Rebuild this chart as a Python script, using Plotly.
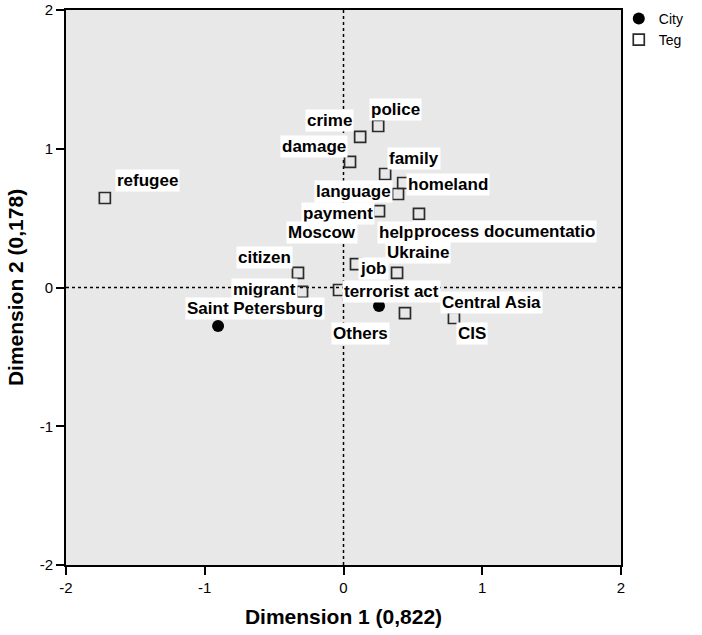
import plotly.graph_objects as go

# Correspondence analysis map: row points (City) and column points (Teg)
city_names = ["Moscow", "Saint Petersburg", "Others"]
city_dim1 = [-0.155, -0.904, 0.256]
city_dim2 = [0.400, -0.277, -0.133]

teg_names = ["refugee", "police", "crime", "damage", "family", "homeland",
             "language", "payment", "help", "process documentatio", "Ukraine",
             "job", "citizen", "migrant", "terrorist act", "Central Asia", "CIS"]
teg_dim1 = [-1.720, 0.250, 0.120, 0.047, 0.300, 0.430,
            0.393, 0.256, 0.380, 0.544, 0.386,
            0.090, -0.328, -0.299, -0.032, 0.443, 0.796]
teg_dim2 = [0.645, 1.164, 1.085, 0.905, 0.818, 0.753,
            0.674, 0.551, 0.400, 0.530, 0.105,
            0.169, 0.105, -0.032, -0.018, -0.184, -0.220]

axis_ticks = [-2, -1, 0, 1, 2]
x_title = "Dimension 1 (0,822)"
y_title = "Dimension 2 (0,178)"

# label placement (pixel offsets from each point: right, down)
label_offset = {
    "Moscow": (0, 0), "Saint Petersburg": (37, -17), "Others": (-19, 28),
    "refugee": (43, -18), "police": (17, -17), "crime": (-31, -16),
    "damage": (-36, -15), "family": (29, -16), "homeland": (45, 1),
    "language": (-45, -2), "payment": (-41, 2), "help": (0, 0),
    "process documentatio": (86, 18), "Ukraine": (21, -20), "job": (18, 4),
    "citizen": (-33, -15), "migrant": (-38, -2), "terrorist act": (52, 1),
    "Central Asia": (87, -11), "CIS": (18, 15),
}

FONT = "Liberation Sans, Arial, sans-serif"

fig = go.Figure()
fig.add_trace(go.Scatter(
    x=city_dim1, y=city_dim2, mode="markers", name="City",
    marker=dict(symbol="circle", size=12, color="black"),
))
fig.add_trace(go.Scatter(
    x=teg_dim1, y=teg_dim2, mode="markers", name="Teg",
    marker=dict(symbol="square-open", size=11, color="#2b2b2b",
                line=dict(width=1.7, color="#2b2b2b")),
))

annotations = []
for names, xs, ys in ((teg_names, teg_dim1, teg_dim2),
                      (city_names, city_dim1, city_dim2)):
    for n, xv, yv in zip(names, xs, ys):
        dx, dy = label_offset[n]
        annotations.append(dict(
            x=xv, y=yv, xref="x", yref="y", text=f"<b>{n}</b>",
            showarrow=False, xshift=dx, yshift=-dy,
            bgcolor="white", borderpad=1,
            font=dict(family=FONT, size=17, color="black"),
        ))

shapes = [
    dict(type="line", xref="x", yref="y", x0=0, x1=0, y0=-2, y1=2,
         line=dict(color="black", width=1.5, dash="3px,3px"), layer="below"),
    dict(type="line", xref="x", yref="y", x0=-2, x1=2, y0=0, y1=0,
         line=dict(color="black", width=1.5, dash="3px,3px"), layer="below"),
]

axis_common = dict(
    range=[-2, 2], tickvals=axis_ticks, ticktext=[str(t) for t in axis_ticks],
    showgrid=False, zeroline=False, showline=True, mirror=True,
    linecolor="black", linewidth=2, ticks="outside", ticklen=8,
    tickwidth=1.5, tickcolor="black",
    tickfont=dict(family=FONT, size=15, color="black"),
)

fig.update_layout(
    width=702, height=635,
    margin=dict(l=66, r=81, t=10, b=70, autoexpand=False),
    paper_bgcolor="white", plot_bgcolor="#e8e8e8",
    xaxis=dict(axis_common, title=dict(text=f"<b>{x_title}</b>", standoff=14,
               font=dict(family=FONT, size=21, color="black"))),
    yaxis=dict(axis_common, title=dict(text=f"<b>{y_title}</b>", standoff=10,
               font=dict(family=FONT, size=21, color="black"))),
    legend=dict(x=0.996, y=1.013, xanchor="left", yanchor="top",
                font=dict(family=FONT, size=14, color="black"),
                bgcolor="rgba(0,0,0,0)", itemwidth=30, tracegroupgap=0),
    annotations=annotations, shapes=shapes,
    showlegend=True,
)

fig.write_html("out.html")
